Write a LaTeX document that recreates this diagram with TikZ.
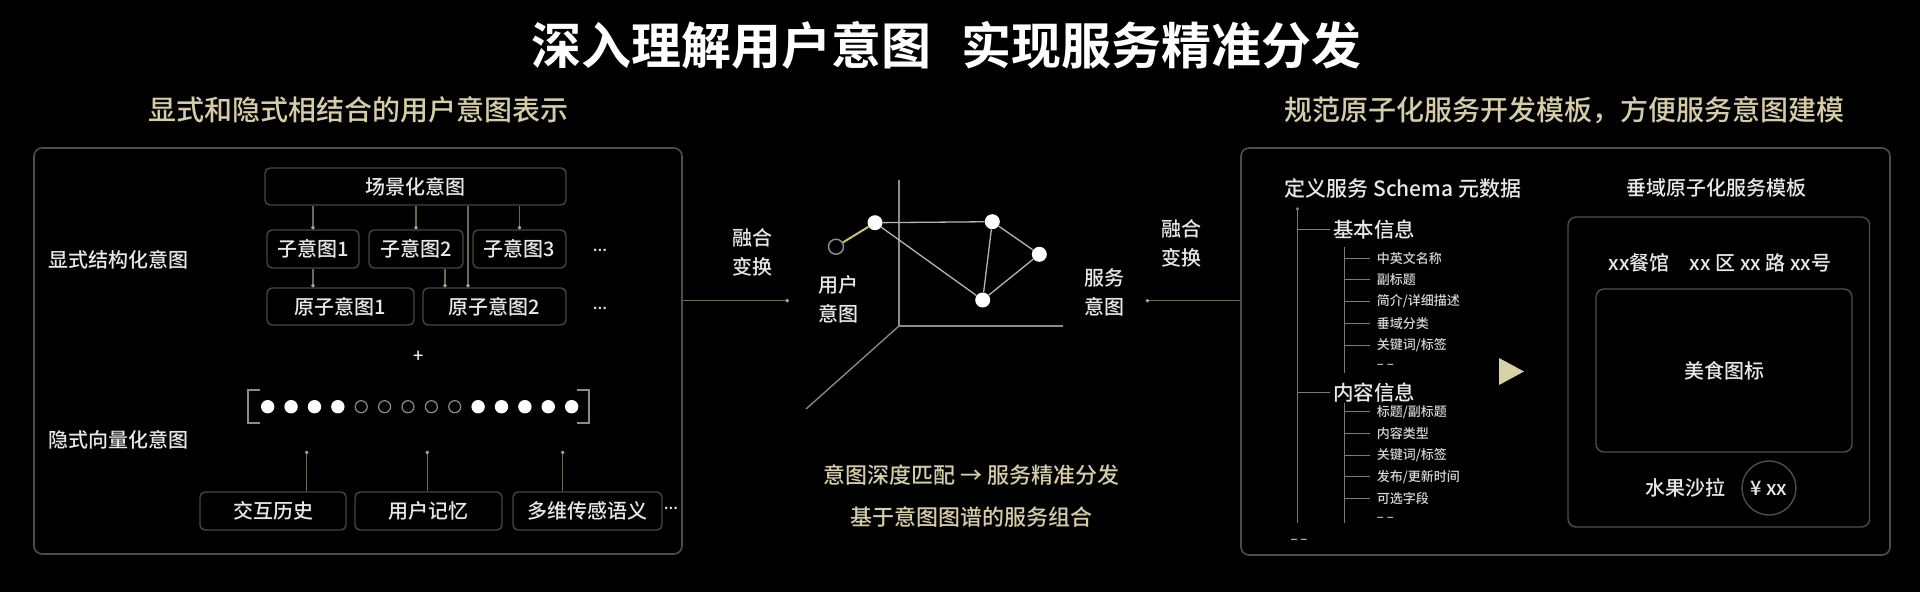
\documentclass[tikz,border=0pt]{standalone}
\usepackage{fontspec}
\setmainfont{Noto Sans CJK SC Medium}[BoldFont=Noto Sans CJK SC Bold]
\usetikzlibrary{arrows.meta,calc}
\definecolor{txt}{HTML}{E8E8E8}
\definecolor{txtdim}{HTML}{D6D6D6}
\definecolor{khaki}{HTML}{D4CDA8}
\definecolor{boxc}{HTML}{4A463C}
\definecolor{panelc}{HTML}{4E4D47}
\definecolor{connc}{HTML}{6E6955}
\definecolor{tipc}{HTML}{A8A390}
\definecolor{axisc}{HTML}{8C8C8C}
\definecolor{edgec}{HTML}{B4B4B4}
\definecolor{yel}{HTML}{C8C266}
\definecolor{tri}{HTML}{D9D1A6}
\definecolor{treec}{HTML}{7C7C7C}
\newcommand\myfs[1]{\fontsize{#1}{#1}\selectfont}
\begin{document}
\begin{tikzpicture}[x=1pt,y=-1pt,
  every node/.style={text=txt,inner sep=0pt},
  panel/.style={draw=panelc,line width=1.6pt,rounded corners=8pt},
  ibox/.style={draw=boxc,line width=1.4pt,rounded corners=5pt,font=\myfs{20}},
  ibox2/.style={draw=panelc,line width=1.4pt,rounded corners=8pt,font=\myfs{20}},
  lbl/.style={font=\myfs{20}},
  two/.style={align=center,font=\fontsize{20}{29}\selectfont},
  conn/.style={draw=connc,line width=1.1pt,-{Circle[length=3.5pt,color=tipc]}},
  vfull/.style={circle,fill=white,minimum size=13.4pt},
  vhole/.style={circle,draw=axisc,line width=1.2pt,minimum size=12pt},
  gdot/.style={circle,fill=white,minimum size=15pt},
  axis/.style={draw=axisc,line width=1.3pt},
  gedge/.style={draw=edgec,line width=1.3pt},
  tree/.style={draw=treec,line width=1pt},
  small/.style={font=\myfs{13},anchor=west,text=txtdim},
  head/.style={font=\myfs{20.5},anchor=west},
]
\useasboundingbox (0,0) rectangle (1920,592);
\fill[black] (0,0) rectangle (1920,592);
% title
\node[font=\fontsize{50}{50}\selectfont\bfseries,text=white] (title) at (946,45) {深入理解用户意图\hspace{0.6em}实现服务精准分发};
\node[font=\myfs{28},text=khaki] (subl) at (358.5,110) {显式和隐式相结合的用户意图表示};
\node[font=\myfs{28},text=khaki] (subr) at (1564.5,110) {规范原子化服务开发模板，方便服务意图建模};
% panels
\node[panel,minimum width=648pt,minimum height=406pt] (lp) at (358,351) {};
\node[panel,minimum width=649pt,minimum height=407pt] (rp) at (1565.5,351.5) {};
% left panel
\node[ibox,minimum width=301pt,minimum height=37pt] (scene) at (415.5,186.5) {场景化意图};
\node[ibox,minimum width=92pt,minimum height=38pt] (s1) at (313,249) {子意图1};
\node[ibox,minimum width=94pt,minimum height=38pt] (s2) at (416,249) {子意图2};
\node[ibox,minimum width=93pt,minimum height=38pt] (s3) at (519.5,249) {子意图3};
\node[ibox,minimum width=147pt,minimum height=37pt] (a1) at (340.5,306.5) {原子意图1};
\node[ibox,minimum width=143pt,minimum height=37pt] (a2) at (494.5,306.5) {原子意图2};
\node[font=\myfs{16}] (e1) at (600,250) {...};
\node[font=\myfs{16}] (e2) at (600,308) {...};
\node[lbl] (l1) at (118.5,260) {显式结构化意图};
\draw[conn] (scene.south -| s1) -- (s1.north);
\draw[conn] (scene.south -| s2) -- (s2.north);
\draw[conn] (scene.south -| s3) -- (s3.north);
\coordinate (j1) at (468,0);
\coordinate (j2) at (445,0);
\draw[conn] (scene.south -| j1) -- (a2.north -| j1);
\draw[conn] (s2.south -| j2) -- (a2.north -| j2);
\draw[conn] (s1.south) -- (a1.north -| s1);
\node[font=\myfs{18}] (plus) at (418.6,357) {+};
\foreach \i in {0,...,13}{
  \pgfmathsetmacro\vx{267.7+\i*23.38}
  \ifnum\i<4 \node[vfull] (v\i) at (\vx,406.7) {};
  \else\ifnum\i>8 \node[vfull] (v\i) at (\vx,406.7) {};
  \else \node[vhole] (v\i) at (\vx,406.7) {};\fi\fi
}
\draw[axis] (260,390) -- (248,390) -- (248,423) -- (260,423);
\draw[axis] (577,390) -- (589,390) -- (589,423) -- (577,423);
\node[ibox,minimum width=146pt,minimum height=38pt] (b1) at (273,511) {交互历史};
\node[ibox,minimum width=147pt,minimum height=38pt] (b2) at (428.5,511) {用户记忆};
\node[ibox,minimum width=149pt,minimum height=38pt] (b3) at (587.5,511) {多维传感语义};
\node[font=\myfs{16}] (e3) at (671,508) {...};
\node[lbl] (l2) at (118.5,440) {隐式向量化意图};
\coordinate (t1) at (306.7,450.7);
\coordinate (t2) at (427.3,450.7);
\coordinate (t3) at (562.7,450.7);
\draw[conn] (b1.north -| t1) -- (t1);
\draw[conn] (b2.north -| t2) -- (t2);
\draw[conn] (b3.north -| t3) -- (t3);
% middle
\node[two] (f1) at (752,252.5) {融合\\变换};
\coordinate (m1) at (789,300.7);
\draw[conn] (lp.east |- m1) -- (m1);
\node[two] (ui) at (838.5,299) {用户\\意图};
\coordinate (O) at (899,326);
\coordinate (yt) at (899,180);
\coordinate (xe) at (1063,326);
\coordinate (ze) at (806,409);
\draw[axis] (yt) -- (O) -- (xe);
\draw[axis] (O) -- (ze);
\node[gdot] (gA) at (875,222.7) {};
\node[gdot] (gB) at (992.3,221.7) {};
\node[gdot] (gC) at (1039.3,254.3) {};
\node[gdot] (gD) at (982.7,300) {};
\node[circle,draw=axisc,line width=1.5pt,minimum size=15pt] (gE) at (836,246.7) {};
\draw[gedge] (gA) -- (gB);
\draw[gedge] (gA) -- (gD);
\draw[gedge] (gB) -- (gD);
\draw[gedge] (gB) -- (gC);
\draw[gedge] (gC) -- (gD);
\draw[draw=yel,line width=2pt] (gE) -- (gA);
\node[two] (si) at (1104.5,292) {服务\\意图};
\node[two] (f2) at (1181.5,243.5) {融合\\变换};
\coordinate (m2) at (1145.7,300.7);
\draw[conn] (rp.west |- m2) -- (m2);
\node[font=\myfs{22},text=khaki] (c1) at (971.5,475) {意图深度匹配 → 服务精准分发};
\node[font=\myfs{22},text=khaki] (c2) at (971.5,517) {基于意图图谱的服务组合};
% right panel
\node[font=\myfs{21}] (sch) at (1403,188) {定义服务 Schema 元数据};
\node[font=\myfs{20}] (tpl) at (1716,188) {垂域原子化服务模板};
\coordinate (mt) at (1297.5,209);
\coordinate (mb) at (1297.5,523);
\draw[tree] (mt) -- (mb);
\fill[treec] (mt) circle (1.8);
\node[head] (h1) at (1333,229.5) {基本信息};
\node[head] (h2) at (1333,392.7) {内容信息};
\draw[tree] (mt |- h1.west) -- ([xshift=-3pt]h1.west);
\draw[tree] (mt |- h2.west) -- ([xshift=-3pt]h2.west);
\coordinate (st1) at (1344.3,247);
\coordinate (sb1) at (1344.3,373);
\coordinate (st2) at (1344.3,403);
\coordinate (sb2) at (1344.3,523);
\draw[tree] (st1) -- (sb1);
\draw[tree] (st2) -- (sb2);
\node[small] (p1) at (1376.7,258.3) {中英文名称};
\node[small] (p2) at (1376.7,279.3) {副标题};
\node[small] (p3) at (1376.7,301) {简介/详细描述};
\node[small] (p4) at (1376.7,323.3) {垂域分类};
\node[small] (p5) at (1376.7,345) {关键词/标签};
\node[small] (p6) at (1376.7,366) {-- --};
\node[small] (q1) at (1376.7,411.7) {标题/副标题};
\node[small] (q2) at (1376.7,433.3) {内容类型};
\node[small] (q3) at (1376.7,455) {关键词/标签};
\node[small] (q4) at (1376.7,476.7) {发布/更新时间};
\node[small] (q5) at (1376.7,498.3) {可选字段};
\node[small] (q6) at (1376.7,519.3) {-- --};
\foreach \k in {1,...,5}{
  \draw[tree] (st1 |- p\k.west) -- ([xshift=-6.7pt]p\k.west);
  \draw[tree] (st2 |- q\k.west) -- ([xshift=-6.7pt]q\k.west);
}
\node[font=\myfs{13},text=txtdim] (fin) at (1299,541) {-- --};
\fill[tri] (1499,358) -- (1499,385) -- (1524,371.5) -- cycle;
\node[ibox2,minimum width=301.5pt,minimum height=310pt] (tb) at (1718.75,372) {};
\node[font=\myfs{20}] (addr) at (1720,263) {xx餐馆\hspace{1em}xx 区 xx 路 xx号};
\node[ibox2,minimum width=256pt,minimum height=163pt] (img) at (1724,370.5) {美食图标};
\node[font=\myfs{20}] (fruit) at (1685.5,488) {水果沙拉};
\node[circle,draw=panelc,line width=1.4pt,minimum size=54pt,font=\myfs{20}] (price) at (1769,488) {¥ xx};
\end{tikzpicture}
\end{document}
